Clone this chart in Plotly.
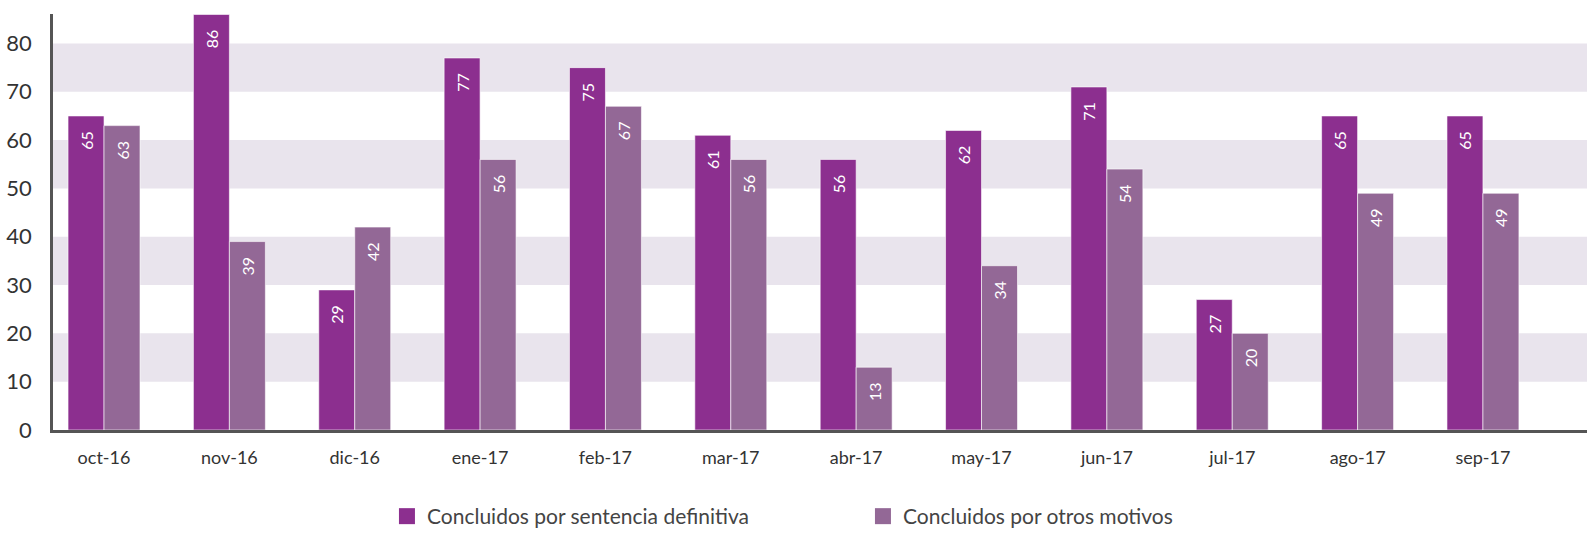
import plotly.graph_objects as go

categories = ["oct-16", "nov-16", "dic-16", "ene-17", "feb-17", "mar-17",
              "abr-17", "may-17", "jun-17", "jul-17", "ago-17", "sep-17"]
sentencia = [65, 86, 29, 77, 75, 61, 56, 62, 71, 27, 65, 65]
otros = [63, 39, 42, 56, 67, 56, 13, 34, 54, 20, 49, 49]
series_names = ["Concluidos por sentencia definitiva", "Concluidos por otros motivos"]
band_ranges = [(10, 20), (30, 40), (50, 60), (70, 80)]
y_ticks = [0, 10, 20, 30, 40, 50, 60, 70, 80]

C1 = "#8c2f8f"
C2 = "#936896"
FONT = "Lato, 'Open Sans', sans-serif"
PAD = "\u00a0\u00a0\u00a0"

fig = go.Figure()
for name, vals, col in [(series_names[0], sentencia, C1), (series_names[1], otros, C2)]:
    fig.add_trace(go.Bar(
        x=categories, y=vals, name=name, showlegend=False,
        marker=dict(color=col, line=dict(color="white", width=0.6)),
        text=[str(v) + PAD for v in vals], textposition="inside",
        insidetextanchor="end", textangle=-90,
        textfont=dict(color="white", size=16, family=FONT),
        cliponaxis=False,
    ))
# legend entries with large square swatches
for name, col in [(series_names[0], C1), (series_names[1], C2)]:
    fig.add_trace(go.Scatter(
        x=[None], y=[None], mode="markers", name=name,
        marker=dict(symbol="square", size=18, color=col),
    ))

shapes = []
for lo, hi in band_ranges:
    shapes.append(dict(type="rect", xref="paper", x0=0, x1=1, yref="y", y0=lo, y1=hi,
                       fillcolor="#e9e4ed", line=dict(width=0), layer="below"))

fig.update_layout(
    width=1587, height=537,
    margin=dict(l=53, r=0, t=14, b=101),
    plot_bgcolor="white", paper_bgcolor="white",
    barmode="group", bargap=0.426, bargroupgap=0.0,
    shapes=shapes,
    font=dict(family=FONT, color="#333333"),
    showlegend=True,
    legend=dict(orientation="h", x=0.528, xanchor="center", y=-0.159, yanchor="top",
                font=dict(size=21, color="#444444"), itemwidth=30, traceorder="normal",
                entrywidth=431, entrywidthmode="pixels", itemclick=False),
    xaxis=dict(range=[-0.407, 11.83], showgrid=False, showline=True, linecolor="#555555",
               linewidth=2.5, ticks="", tickfont=dict(size=18, color="#333333"),
               ticklabelstandoff=10),
    yaxis=dict(range=[0, 86.1], tickvals=y_ticks, showgrid=False, zeroline=False,
               showline=True, linecolor="#555555", linewidth=2.5, ticks="",
               tickfont=dict(size=22, color="#333333"), ticklabelstandoff=14),
)

fig.write_html("out.html", config={"displayModeBar": False},
               post_script="document.body.style.margin='0';document.body.style.overflow='hidden';")
